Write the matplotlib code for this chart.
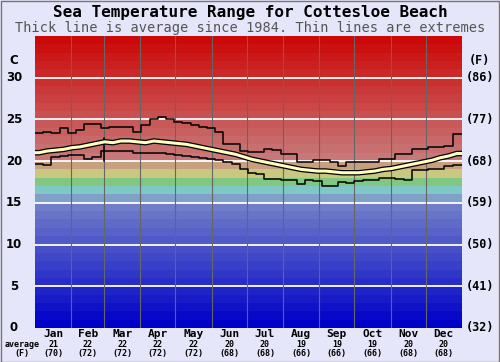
import numpy as np
import matplotlib
matplotlib.use("Agg")
import matplotlib.pyplot as plt
from matplotlib.patches import Rectangle

# weekly values, deg C
max_temp = [23.3, 23.5, 23.3, 23.9, 23.3, 23.7, 24.4, 24.4, 23.9, 24.1, 24.1, 24.1,
            23.5, 24.3, 25.0, 25.3, 25.0, 24.7, 24.5, 24.3, 24.1, 23.9, 23.5, 22.1,
            22.1, 21.2, 21.1, 21.1, 21.5, 21.3, 20.8, 20.8, 19.9, 19.9, 20.1, 20.1,
            19.9, 19.4, 19.9, 19.9, 19.9, 19.9, 20.2, 20.2, 20.9, 20.9, 21.4, 21.5,
            21.7, 21.7, 21.8, 23.2]
min_temp = [19.6, 19.5, 20.5, 20.6, 20.7, 20.7, 20.2, 20.5, 21.2, 21.2, 21.2, 21.2,
            21.0, 21.0, 21.0, 21.0, 20.8, 20.7, 20.6, 20.5, 20.4, 20.2, 20.1, 19.9,
            19.7, 19.1, 18.6, 18.4, 17.9, 17.9, 17.7, 17.7, 17.3, 17.7, 17.6, 17.0,
            17.0, 17.5, 17.4, 17.6, 17.7, 17.7, 18.0, 18.0, 17.9, 17.7, 18.9, 18.9,
            19.1, 19.1, 19.4, 19.5]
avg_temp = [21.0, 21.2, 21.3, 21.4, 21.6, 21.7, 21.9, 22.1, 22.3, 22.2, 22.4, 22.4,
            22.3, 22.2, 22.4, 22.3, 22.2, 22.1, 22.0, 21.8, 21.6, 21.4, 21.2, 21.0,
            20.8, 20.5, 20.2, 20.0, 19.8, 19.6, 19.4, 19.2, 19.0, 18.9, 18.8, 18.8,
            18.7, 18.6, 18.6, 18.6, 18.7, 18.8, 19.0, 19.1, 19.3, 19.5, 19.7, 19.9,
            20.1, 20.4, 20.6, 20.9]
# leap day glitch
spike_day = 59
spike_avg = 22.8
spike_min = 20.0

months = ["Jan", "Feb", "Mar", "Apr", "May", "Jun", "Jul", "Aug", "Sep", "Oct", "Nov", "Dec"]
month_avg_c = [21, 22, 22, 22, 22, 20, 20, 19, 19, 19, 20, 20]
month_avg_f = [70, 72, 72, 72, 72, 68, 68, 66, 66, 66, 68, 68]
month_days = [31, 28, 31, 30, 31, 30, 31, 31, 30, 31, 30, 31]
c_ticks = [0, 5, 10, 15, 20, 25, 30]
f_labels = ["(32)", "(41)", "(50)", "(59)", "(68)", "(77)", "(86)"]

bg = "#e6e6fa"
mono = "DejaVu Sans Mono"

fig = plt.figure(figsize=(5, 3.62), dpi=100, facecolor=bg)
ax = fig.add_axes([0.07, 0.094, 0.854, 0.807])
ax.set_xlim(0, 365)
ax.set_ylim(0, 35)


def band_color(t):
    if t >= 20:
        f = (t - 20) / 15.0
        return ((200 + 4 * f) / 255, (120 - 120 * f) / 255, (120 - 120 * f) / 255)
    fixed = {19: (200, 160, 128), 18: (200, 200, 128), 17: (128, 200, 128),
             16: (128, 200, 200), 15: (128, 160, 200)}
    if t in fixed:
        r, g, b = fixed[t]
        return (r / 255, g / 255, b / 255)
    f = t / 14.0
    return (112 * f / 255, 125 * f / 255, 200 / 255)


for t in range(35):
    ax.axhspan(t, t + 1, color=band_color(t), lw=0)

for c in c_ticks[1:]:
    ax.axhline(c, color="white", lw=1.3, zorder=2)

edges = np.cumsum(month_days)
for e in edges[:-1]:
    ax.axvline(e, color="#666666", lw=0.8, zorder=2)

days = np.arange(52) * 7 + 3.5
xs = np.concatenate([[0], days, [365]])


def ext(v):
    return np.concatenate([[v[0]], v, [v[-1]]])


ax.plot(xs, ext(max_temp), color="black", lw=1.1, drawstyle="steps-mid", zorder=3)
ax.plot(xs, ext(min_temp), color="black", lw=1.1, drawstyle="steps-mid", zorder=3)
ax.plot([spike_day, spike_day], [spike_min, spike_avg], color="black", lw=1.1, zorder=3)
ax.plot(xs, ext(avg_temp), color="black", lw=4.0, zorder=4, solid_capstyle="butt")
ax.plot(xs, ext(avg_temp), color="#ffffc0", lw=2.2, zorder=5, solid_capstyle="butt")

ax.set_xticks([])
ax.set_yticks([])
for s in ax.spines.values():
    s.set_visible(False)

# axis labels
for c in c_ticks:
    ax.text(-18, c, str(c), ha="center", va="center", fontsize=8.5,
            fontweight="bold", color="black", clip_on=False)
for c, lab in zip(c_ticks, f_labels):
    ax.text(365 + 15, c, lab, ha="center", va="center", fontsize=8.5,
            fontweight="bold", family=mono, clip_on=False)
ax.text(-18, 32, "C", ha="center", va="center", fontsize=8.5, fontweight="bold", clip_on=False)
ax.text(365 + 15, 32, "(F)", ha="center", va="center", fontsize=8.5,
        fontweight="bold", family=mono, clip_on=False)

starts = np.concatenate([[0], edges[:-1]])
mids = (starts + edges) / 2
for m, lab, c, f in zip(mids, months, month_avg_c, month_avg_f):
    ax.text(m, -0.75, lab, ha="center", va="center", fontsize=8, fontweight="bold",
            family=mono, clip_on=False)
    ax.text(m, -1.95, str(c), ha="center", va="center", fontsize=6, fontweight="bold",
            family=mono, clip_on=False)
    ax.text(m, -3.05, "(%d)" % f, ha="center", va="center", fontsize=6, fontweight="bold",
            family=mono, clip_on=False)
ax.text(-11, -1.95, "average", ha="center", va="center", fontsize=6, fontweight="bold",
        family=mono, clip_on=False)
ax.text(-11, -3.05, "(F)", ha="center", va="center", fontsize=6, fontweight="bold",
        family=mono, clip_on=False)

fig.text(0.5, 0.966, "Sea Temperature Range for Cottesloe Beach", ha="center", va="center",
         fontsize=11.5, fontweight="bold", family=mono)
fig.text(0.5, 0.924, "Thick line is average since 1984. Thin lines are extremes",
         ha="center", va="center", fontsize=9.8, family=mono, color="#555555")

fig.patches.append(Rectangle((0.001, 0.001), 0.996, 0.996, transform=fig.transFigure,
                             fill=False, edgecolor="#777777", lw=1))

fig.savefig("out.png", dpi=100, facecolor=bg)
